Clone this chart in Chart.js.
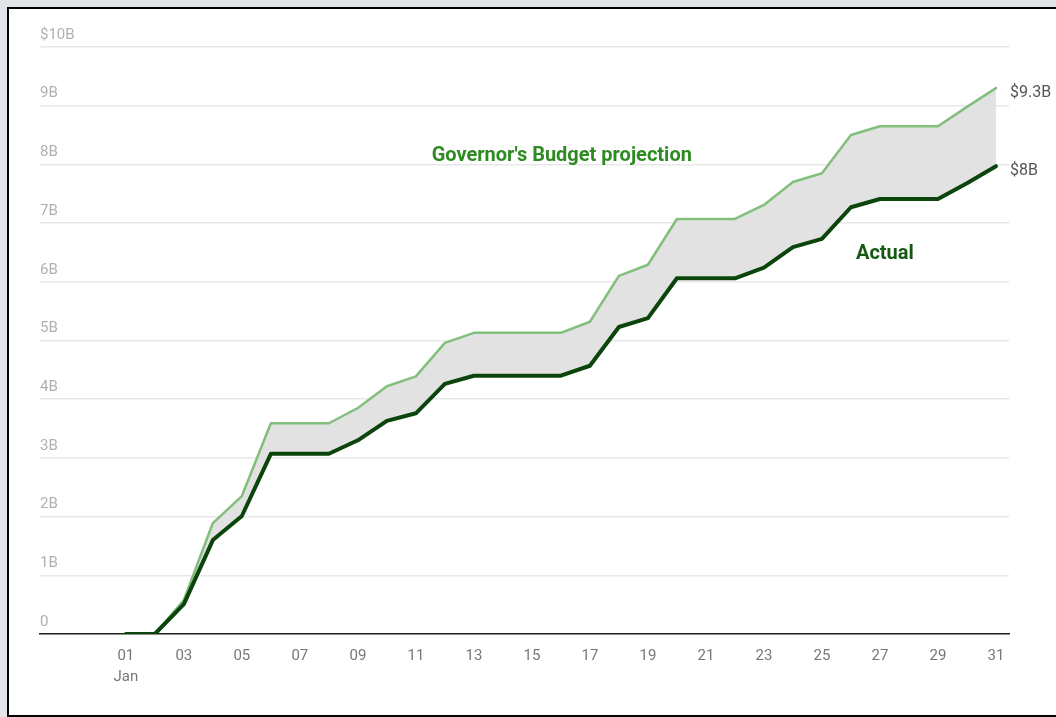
<!DOCTYPE html>
<html>
<head>
<meta charset="utf-8">
<title>Revenue vs projection</title>
<script src="https://cdn.jsdelivr.net/npm/chart.js@4.4.1/dist/chart.umd.min.js"></script>
<style>
  html, body { margin: 0; padding: 0; background: #e1e4e8; overflow: hidden; }
  .frame {
    position: absolute; left: 7px; top: 7px;
    width: 1060px; height: 706px;
    border: 2px solid #000; background: #fff; overflow: hidden;
  }
  .chart-box { position: relative; width: 1047px; height: 706px; }
</style>
</head>
<body>
<div class="frame">
  <div class="chart-box"><canvas id="chart"></canvas></div>
</div>
<script>
// days of January
const days = [1, 2, 3, 4, 5, 6, 7, 8, 9, 10, 11, 12, 13, 14, 15, 16,
              17, 18, 19, 20, 21, 22, 23, 24, 25, 26, 27, 28, 29, 30, 31];

// cumulative revenue, $ billions
const actual = [0, 0, 0.51, 1.60, 2.01, 3.07, 3.07, 3.07, 3.30, 3.63, 3.76, 4.26, 4.40, 4.40, 4.40, 4.40,
                4.57, 5.23, 5.38, 6.06, 6.06, 6.06, 6.24, 6.59, 6.73, 7.27, 7.41, 7.41, 7.41, 7.68, 7.97];
const projection = [0, 0, 0.58, 1.89, 2.35, 3.59, 3.59, 3.59, 3.85, 4.22, 4.39, 4.96, 5.13, 5.13, 5.13, 5.13,
                    5.32, 6.10, 6.29, 7.07, 7.07, 7.07, 7.31, 7.70, 7.85, 8.50, 8.65, 8.65, 8.65, 8.98, 9.30];

const seriesNames = ['Actual', "Governor's Budget projection"];
const endLabels = ['$8B', '$9.3B'];

const yTicks = [0, 1, 2, 3, 4, 5, 6, 7, 8, 9, 10];
const yTickLabels = ['0', '1B', '2B', '3B', '4B', '5B', '6B', '7B', '8B', '9B', '$10B'];
const xTicks = [1, 3, 5, 7, 9, 11, 13, 15, 17, 19, 21, 23, 25, 27, 29, 31];
const xTickLabels = ['01', '03', '05', '07', '09', '11', '13', '15', '17', '19', '21', '23', '25', '27', '29', '31'];
const monthLabel = 'Jan';

const FONT = 'Roboto, "Noto Sans", sans-serif';

// text labels on the chart (series names + end values)
const labelPlugin = {
    id: 'labels',
    afterDatasetsDraw(chart) {
        const { ctx, scales: { x, y } } = chart;
        ctx.save();
        ctx.textBaseline = 'middle';

        // series names
        ctx.font = 'bold 20px ' + FONT;
        ctx.textAlign = 'center';
        ctx.fillStyle = '#2e8b22';
        ctx.fillText(seriesNames[1], x.getPixelForValue(16.03), y.getPixelForValue(8.14));
        ctx.fillStyle = '#145a12';
        ctx.fillText(seriesNames[0], x.getPixelForValue(27.17), y.getPixelForValue(6.48));

        // end-of-line values
        ctx.font = '16px ' + FONT;
        ctx.textAlign = 'left';
        ctx.fillStyle = '#555';
        chart.data.datasets.forEach((ds, i) => {
            const pts = chart.getDatasetMeta(i).data;
            const last = pts[pts.length - 1];
            ctx.fillText(endLabels[i], chart.chartArea.right + 1, last.y + 5);
        });
        ctx.restore();
    }
};

new Chart(document.getElementById('chart'), {
    type: 'line',
    data: {
        datasets: [
            {
                label: seriesNames[0],
                data: days.map((d, i) => ({ x: d, y: actual[i] })),
                borderColor: '#0b450b',
                borderWidth: 4,
                fill: false
            },
            {
                label: seriesNames[1],
                data: days.map((d, i) => ({ x: d, y: projection[i] })),
                borderColor: '#82bf7c',
                borderWidth: 2.5,
                backgroundColor: '#e2e2e2',
                fill: '-1'
            }
        ]
    },
    options: {
        responsive: true,
        maintainAspectRatio: false,
        animation: false,
        layout: { padding: { left: 31, right: 47, top: 38, bottom: 0 } },
        elements: {
            point: { radius: 0, hoverRadius: 0 },
            line: { tension: 0, borderJoinStyle: 'round', borderCapStyle: 'round' }
        },
        plugins: {
            legend: { display: false },
            tooltip: { enabled: false }
        },
        scales: {
            x: {
                type: 'linear',
                min: -1.96,
                max: 31.45,
                afterBuildTicks: (scale) => { scale.ticks = xTicks.map(v => ({ value: v })); },
                afterFit: (scale) => { scale.height = 81; },
                grid: { display: false, drawTicks: false },
                border: { display: true, color: '#222', width: 1.5 },
                ticks: {
                    autoSkip: false,
                    maxRotation: 0,
                    padding: 11,
                    color: '#777',
                    font: { family: FONT, size: 15, lineHeight: 1.45 },
                    callback: (value, index) => index === 0 ? [xTickLabels[index], monthLabel] : xTickLabels[index]
                }
            },
            y: {
                min: 0,
                max: 10,
                afterBuildTicks: (scale) => { scale.ticks = yTicks.map(v => ({ value: v })); },
                afterFit: (scale) => { scale.width = 0; },
                grid: { color: '#e8e8e8', lineWidth: 1.5, drawTicks: false },
                border: { display: false },
                ticks: {
                    mirror: true,
                    padding: 0,
                    labelOffset: -12,
                    color: '#b0b0b0',
                    font: { family: FONT, size: 15 },
                    callback: (value, index) => yTickLabels[index]
                }
            }
        }
    },
    plugins: [labelPlugin]
});
</script>
</body>
</html>
